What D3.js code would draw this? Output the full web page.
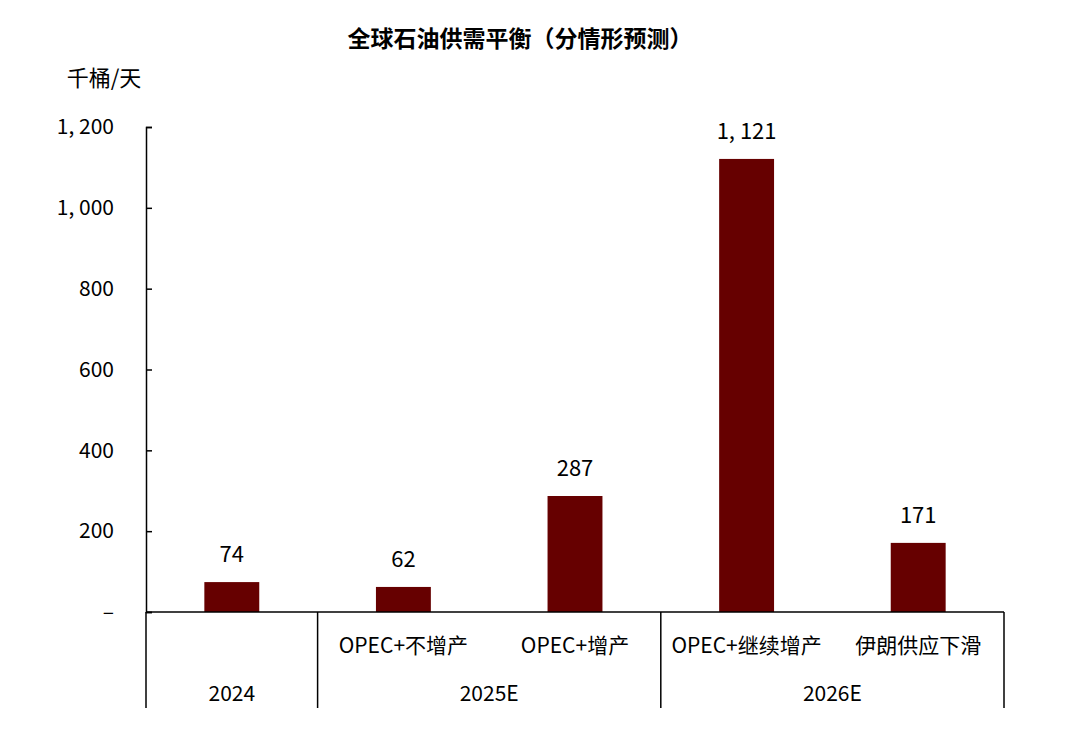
<!DOCTYPE html>
<html><head><meta charset="utf-8">
<script src="https://cdn.jsdelivr.net/npm/d3@7"></script>
<style>body{margin:0;background:#fff}</style>
</head><body>
<script>
// 数据
var categories = ['2024-', 'OPEC+不增产', 'OPEC+增产', 'OPEC+继续增产', '伊朗供应下滑']
var catLabels = ['', 'OPEC+不增产', 'OPEC+增产', 'OPEC+继续增产', '伊朗供应下滑']
var values = [74, 62, 287, 1121, 171]
var groups = [{name: '2024', from: 0, to: 0}, {name: '2025E', from: 1, to: 2}, {name: '2026E', from: 3, to: 4}]
var yTicks = [0, 200, 400, 600, 800, 1000, 1200]

var W = 1080, H = 747
var plotL = 146, plotR = 1004, plotT = 127, plotB = 612
var font = '"Noto Sans CJK SC", "Noto Sans", sans-serif'

var svg = d3.select('body').append('svg').attr('width', W).attr('height', H)
    .attr('font-family', font)

var x = d3.scaleBand().domain(categories).range([plotL, plotR]).paddingInner(0.68).paddingOuter(0.34)
var xOuter = d3.scaleBand().domain(categories).range([plotL, plotR])
var y = d3.scaleLinear().domain([0, 1200]).range([plotB, plotT])

var fmt = d => d === 0 ? '–' : d3.format(',')(d).replace(',', ', ')

// 标题
svg.append('text').attr('x', 520).attr('y', 47).attr('text-anchor', 'middle')
    .attr('font-size', 23).attr('font-weight', 'bold').text('全球石油供需平衡（分情形预测）')
svg.append('text').attr('x', 104).attr('y', 86).attr('text-anchor', 'middle')
    .attr('font-size', 22).text('千桶/天')

// y 轴
var yAxis = svg.append('g').attr('transform', 'translate(' + plotL + ',0)')
    .call(d3.axisLeft(y).tickValues(yTicks).tickSize(-6).tickPadding(32).tickFormat(fmt))
yAxis.select('.domain').attr('stroke', '#000').attr('stroke-width', 1.5)
yAxis.selectAll('.tick line').attr('stroke', '#000').attr('stroke-width', 1.5)
yAxis.selectAll('text').attr('font-size', 21).attr('font-family', font).attr('fill', '#000')

// 柱
svg.selectAll('rect.bar').data(values).join('rect').attr('class', 'bar')
    .attr('x', (d, i) => x(categories[i])).attr('width', x.bandwidth())
    .attr('y', d => y(d)).attr('height', d => plotB - y(d)).attr('fill', '#660000')

svg.selectAll('text.val').data(values).join('text').attr('class', 'val')
    .attr('x', (d, i) => x(categories[i]) + x.bandwidth() / 2).attr('y', d => y(d) - 20)
    .attr('text-anchor', 'middle').attr('font-size', 22).text(d => fmt(d))

// x 轴
svg.append('line').attr('x1', plotL).attr('x2', plotR).attr('y1', plotB).attr('y2', plotB)
    .attr('stroke', '#000').attr('stroke-width', 1.5)

var seps = [plotL].concat(groups.map(g => xOuter(categories[g.to]) + xOuter.bandwidth()))
svg.selectAll('line.sep').data(seps).join('line').attr('class', 'sep')
    .attr('x1', d => d).attr('x2', d => d).attr('y1', plotB).attr('y2', 708)
    .attr('stroke', '#000').attr('stroke-width', 1.5)

svg.selectAll('text.cat').data(catLabels).join('text').attr('class', 'cat')
    .attr('x', (d, i) => xOuter(categories[i]) + xOuter.bandwidth() / 2).attr('y', 653)
    .attr('text-anchor', 'middle').attr('font-size', 21).text(d => d)

svg.selectAll('text.grp').data(groups).join('text').attr('class', 'grp')
    .attr('x', g => (xOuter(categories[g.from]) + xOuter(categories[g.to]) + xOuter.bandwidth()) / 2)
    .attr('y', 701).attr('text-anchor', 'middle').attr('font-size', 21).text(g => g.name)
</script>
</body></html>
